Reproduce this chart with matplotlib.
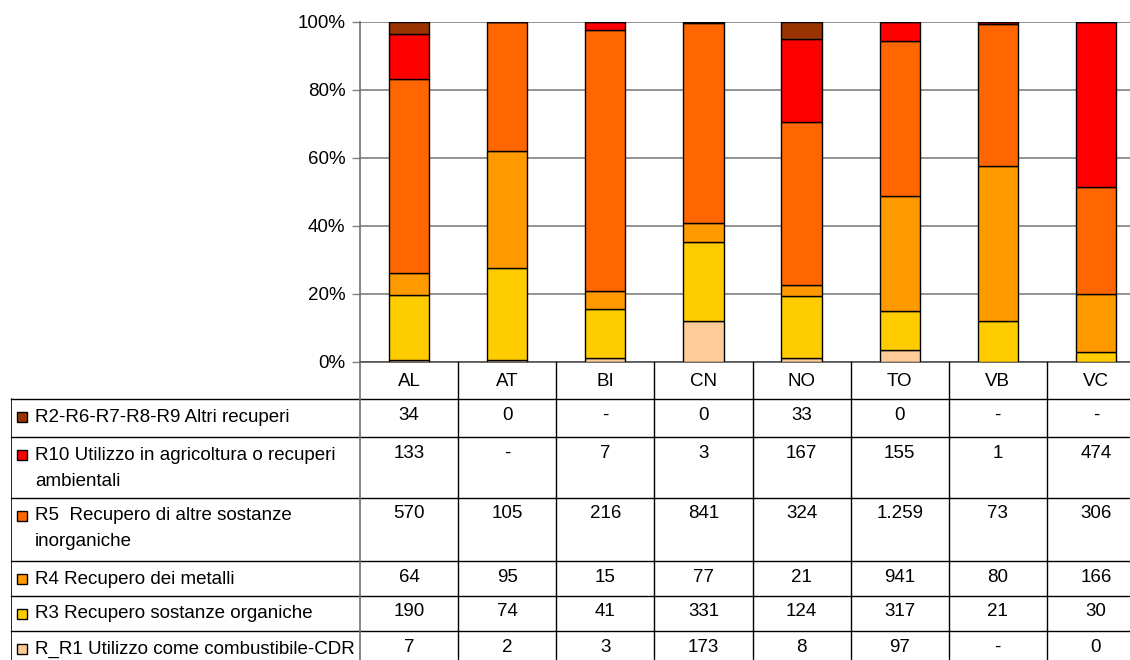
import numpy as np
import matplotlib.pyplot as plt

plt.rcParams['font.family'] = ['Liberation Sans', 'DejaVu Sans']

# province
categories = ['AL', 'AT', 'BI', 'CN', 'NO', 'TO', 'VB', 'VC']

# serie (None = "-")
r2_altri = [34, 0, None, 0, 33, 0, None, None]
r10_agricoltura = [133, None, 7, 3, 167, 155, 1, 474]
r5_inorganiche = [570, 105, 216, 841, 324, 1259, 73, 306]
r4_metalli = [64, 95, 15, 77, 21, 941, 80, 166]
r3_organiche = [190, 74, 41, 331, 124, 317, 21, 30]
r1_cdr = [7, 2, 3, 173, 8, 97, None, 0]

# ordine della tabella (dall'alto)
labels = [
    ['R2-R6-R7-R8-R9 Altri recuperi'],
    ['R10 Utilizzo in agricoltura o recuperi', 'ambientali'],
    ['R5  Recupero di altre sostanze', 'inorganiche'],
    ['R4 Recupero dei metalli'],
    ['R3 Recupero sostanze organiche'],
    ['R_R1 Utilizzo come combustibile-CDR'],
]
series = [r2_altri, r10_agricoltura, r5_inorganiche, r4_metalli, r3_organiche, r1_cdr]
colors = ['#993300', '#FF0000', '#FF6600', '#FF9900', '#FFCC00', '#FFCC99']


def fmt(v):
    if v is None:
        return '-'
    return f'{v:,}'.replace(',', '.')


W, H = 1130, 660
fig = plt.figure(figsize=(W / 100, H / 100), dpi=100)

x_left, x_right = 360, 1145
y_top, y_zero = 22, 362
ax = fig.add_axes([x_left / W, (H - y_zero) / H, (x_right - x_left) / W, (y_zero - y_top) / H])

vals = np.array([[0 if v is None else v for v in s] for s in series], dtype=float)
perc = vals / vals.sum(axis=0) * 100
x = np.arange(len(categories))

# stack from bottom: R1, R3, R4, R5, R10, R2
bottom = np.zeros(len(categories))
for i in range(len(series) - 1, -1, -1):
    ax.bar(x, perc[i], 0.41, bottom=bottom, color=colors[i], edgecolor='black', linewidth=1, zorder=3)
    bottom += perc[i]

ax.set_xlim(-0.5, len(categories) - 0.5)
ax.set_ylim(0, 100)
ax.set_yticks(np.arange(0, 101, 20))
ax.set_yticklabels([f'{t}%' for t in range(0, 101, 20)], fontsize=13.5)
ax.set_xticks([])
ax.yaxis.grid(True, color='#808080', linewidth=1.2, zorder=0)
ax.tick_params(axis='y', length=5.5, width=1, color='#808080', pad=5)
for s in ['top', 'right']:
    ax.spines[s].set_visible(False)
ax.spines['left'].set_color('#707070')
ax.spines['left'].set_linewidth(1.2)
ax.spines['bottom'].set_color('#505050')
ax.spines['bottom'].set_linewidth(1.2)

# tabella dati
unit = (x_right - x_left) / len(categories)
tx0 = -0.5 - (x_left - 11) / unit
tab = fig.add_axes([11 / W, 0, (x_right - 11) / W, (H - y_zero) / H])
tab.set_xlim(tx0, len(categories) - 0.5)
tab.set_ylim(H, y_zero)
tab.axis('off')

row_lines = [399, 437, 498, 561, 596, 631, 667]
for yl in row_lines:
    tab.plot([tx0, len(categories) - 0.5], [yl, yl], color='black', lw=1, clip_on=False)
tab.plot([tx0, tx0], [row_lines[0], H], color='black', lw=1.2)
tab.plot([-0.5, -0.5], [y_zero, H], color='#707070', lw=1.2)
for k in range(len(categories)):
    tab.plot([k + 0.5, k + 0.5], [y_zero, H], color='black', lw=1)

for k, c in enumerate(categories):
    tab.text(k, (y_zero + row_lines[0]) / 2 + 1, c, ha='center', va='center', fontsize=13.5)

for r, (lab, s, col) in enumerate(zip(labels, series, colors)):
    yc = row_lines[r] + 18
    mx = tx0 + 10.5 / unit
    tab.plot([mx], [yc], marker='s', ms=7, mfc=col, mec='black', mew=1, clip_on=False)
    for j, line in enumerate(lab):
        tab.text(tx0 + 24 / unit, yc + j * 26, line, ha='left', va='center', fontsize=13.5)
    for k, v in enumerate(s):
        tab.text(k, yc - 2, fmt(v), ha='center', va='center', fontsize=13.5)

plt.savefig('out.png', dpi=100)
